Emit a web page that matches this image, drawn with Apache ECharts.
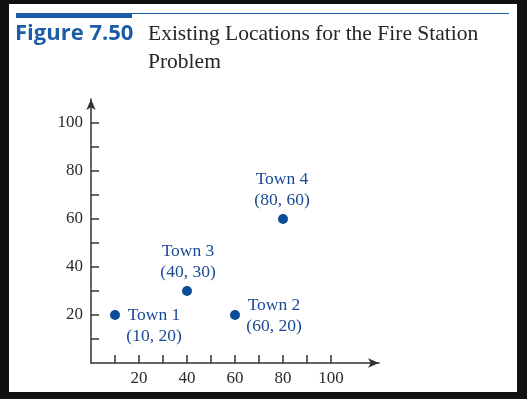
<!DOCTYPE html>
<html>
<head>
<meta charset="utf-8">
<script src="https://cdn.jsdelivr.net/npm/echarts@6/dist/echarts.min.js"></script>
<style>
  html, body { margin: 0; padding: 0; background: #111; }
  #chart { width: 527px; height: 399px; }
</style>
</head>
<body>
<div id="chart"></div>
<script>
// town data
const towns = ['Town 1', 'Town 2', 'Town 3', 'Town 4'];
const townX = [10, 60, 40, 80];
const townY = [20, 20, 30, 60];

// tick values
const tickValues = [10, 20, 30, 40, 50, 60, 70, 80, 90, 100];
const labelValues = [20, 40, 60, 80, 100];

// label placement relative to the dot (styling only)
const labelOffsets = [[39, 11], [39, 1], [1, -29], [-1, -29]];

const serif = '"Liberation Serif", "DejaVu Serif", serif';
const axisColor = '#333';
const dotBlue = '#0b4a96';

const chart = echarts.init(document.getElementById('chart'), null, { renderer: 'canvas' });

const points = towns.map((name, i) => ({
  name,
  value: [townX[i], townY[i]],
  label: { offset: labelOffsets[i] }
}));

const axisCommon = {
  type: 'value',
  min: 0,
  interval: 10,
  splitLine: { show: false },
  axisLine: {
    lineStyle: { color: axisColor, width: 1.5 },
    symbol: ['none', 'arrow'],
    symbolSize: [7, 11]
  },
  axisTick: {
    inside: true,
    length: 8,
    customValues: tickValues,
    lineStyle: { color: axisColor, width: 1.5 }
  },
  axisLabel: {
    customValues: labelValues,
    fontFamily: serif,
    fontSize: 17,
    color: '#2b2b2b'
  }
};

chart.setOption({
  backgroundColor: '#111',
  animation: false,
  graphic: [
    { type: 'rect', z: -10, shape: { x: 9, y: 4, width: 508, height: 388 }, style: { fill: '#fff' } },
    { type: 'rect', shape: { x: 16, y: 13, width: 116, height: 5 }, style: { fill: '#1d5ca6' } },
    { type: 'line', shape: { x1: 132, y1: 13.5, x2: 509, y2: 13.5 }, style: { stroke: '#1d5ca6', lineWidth: 1.2 } }
  ],
  title: [
    {
      text: 'Figure 7.50',
      left: 15,
      top: 23,
      padding: 0,
      textStyle: { fontFamily: '"Open Sans", "Noto Sans", sans-serif', fontWeight: 'bold', fontSize: 22, color: '#1d5ca6' }
    },
    {
      text: 'Existing Locations for the Fire Station\nProblem',
      left: 148,
      top: 20,
      padding: 0,
      textStyle: { fontFamily: serif, fontWeight: 'normal', fontSize: 21.5, lineHeight: 28, color: '#262626' }
    }
  ],
  grid: { left: 91, top: 99, width: 288, height: 264, containLabel: false },
  xAxis: Object.assign({}, axisCommon, {
    max: 120,
    axisLabel: Object.assign({}, axisCommon.axisLabel, { margin: 7 })
  }),
  yAxis: Object.assign({}, axisCommon, {
    max: 110,
    axisLabel: Object.assign({}, axisCommon.axisLabel, { margin: 8 })
  }),
  series: [{
    type: 'scatter',
    symbolSize: 10,
    itemStyle: { color: dotBlue, opacity: 1 },
    data: points,
    label: {
      show: true,
      position: 'inside',
      align: 'center',
      verticalAlign: 'middle',
      fontFamily: serif,
      fontSize: 17.5,
      lineHeight: 21,
      color: '#1a4a94',
      formatter: p => p.name + '\n(' + p.value[0] + ', ' + p.value[1] + ')'
    }
  }]
});

window.addEventListener('resize', () => chart.resize());
</script>
</body>
</html>
